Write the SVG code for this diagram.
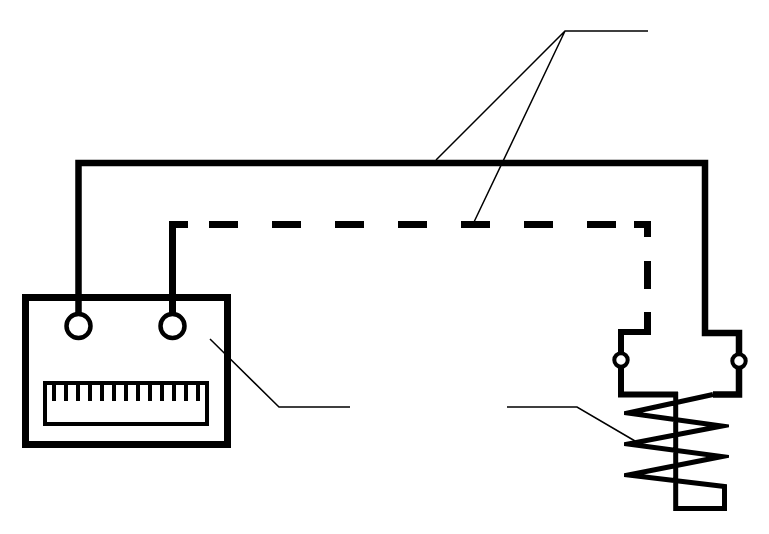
<svg xmlns="http://www.w3.org/2000/svg" width="769" height="534" viewBox="0 0 769 534">
<style>
.w{fill:none;stroke:#000;stroke-linejoin:miter;stroke-linecap:butt}
.thin{stroke-width:1.5}
.c{fill:#fff;stroke:#000}
</style>
<defs><clipPath id="coilclip"><rect x="624" y="380" width="105" height="140"/></clipPath></defs>
<rect width="769" height="534" fill="#fff"/>
<g id="connectors">
<path class="w" stroke-width="6.500" d="M78.500 316V163H705V333H739V394.500H713"/>
<path class="w" stroke-width="7" d="M172.500 316V224.500H188M209 224.500H238M272 224.500H301M335 224.500H364M398 224.500H427M461 224.500H490M524 224.500H553M587 224.500H616"/>
<path class="w" stroke-width="7" d="M634 224.500H647.500V237M647.500 261V289M647.500 312V332"/>
<path class="w" stroke-width="6" d="M651 332H621V394.500H678"/>
<path class="w thin" d="M648 31H565L436 160M565 31L474 222"/>
<path class="w thin" d="M210 339L279 407H350"/>
<path class="w thin" d="M507 407H577L635 441"/>
</g>
<g id="meter">
<rect class="w" stroke-width="7" x="25.500" y="297.500" width="202" height="147"/>
<rect class="w" stroke-width="4" x="45" y="383" width="162" height="41"/>
<path class="w" stroke-width="4" d="M54 383V401M66 383V401M78 383V401M90 383V401M102 383V401M114 383V401M126 383V401M138 383V401M150 383V401M162 383V401M174 383V401M186 383V401M198 383V401"/>
<circle class="c" stroke-width="4.500" cx="78.500" cy="326" r="12"/>
<circle class="c" stroke-width="4.500" cx="172.500" cy="326" r="12"/>
</g>
<g id="coil">
<path class="w" stroke-width="5" stroke-miterlimit="20" clip-path="url(#coilclip)" d="M713 394.500L628 413L722 426L628 444L722 456.500L628 475L724.500 486.500V508.500H675.700V392"/>
</g>
<g id="terminal-left"><circle class="c" stroke-width="4" cx="621" cy="360" r="6.700"/></g>
<g id="terminal-right"><circle class="c" stroke-width="4" cx="739" cy="361" r="6.700"/></g>
</svg>
